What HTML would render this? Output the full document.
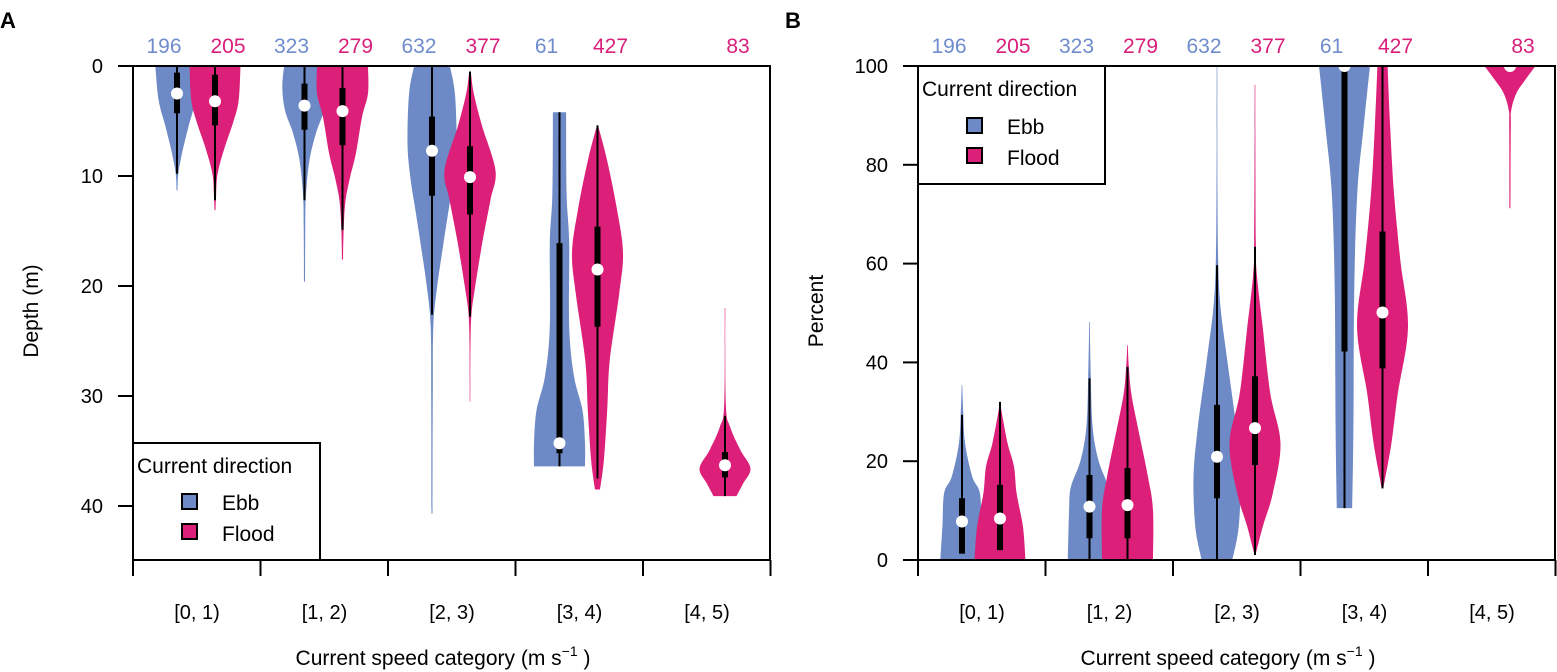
<!DOCTYPE html>
<html><head><meta charset="utf-8"><style>
body{margin:0;background:#fff}
svg{display:block;font-family:"Liberation Sans",Arial,sans-serif}
</style></head><body>
<svg id="chart" width="1557" height="672" viewBox="0 0 1557 672">
<defs>
<clipPath id="clipA"><rect x="133" y="66" width="637" height="494"/></clipPath>
<clipPath id="clipB"><rect x="918" y="66" width="637" height="494"/></clipPath>
</defs>
<text x="0" y="28" font-size="22" font-weight="bold">A</text>
<text x="785" y="28" font-size="22" font-weight="bold">B</text>
<g id="gA" clip-path="url(#clipA)"></g>
<g id="gB" clip-path="url(#clipB)"></g>
<g id="axes"></g>
<g>
<rect x="133" y="443" width="187" height="117" fill="#fff" stroke="#000" stroke-width="2"/>
<text x="137" y="473" font-size="21">Current direction</text>
<rect x="182" y="494" width="15" height="15" fill="#6d89c6" stroke="#000" stroke-width="2"/>
<text x="222" y="510" font-size="21">Ebb</text>
<rect x="182" y="524" width="15" height="15" fill="#dc2079" stroke="#000" stroke-width="2"/>
<text x="222" y="541" font-size="21">Flood</text>
</g>
<g>
<rect x="918" y="66" width="187" height="118" fill="#fff" stroke="#000" stroke-width="2"/>
<text x="922" y="96" font-size="21">Current direction</text>
<rect x="967" y="118" width="15" height="15" fill="#6d89c6" stroke="#000" stroke-width="2"/>
<text x="1007" y="134" font-size="21">Ebb</text>
<rect x="967" y="148" width="15" height="15" fill="#dc2079" stroke="#000" stroke-width="2"/>
<text x="1007" y="165" font-size="21">Flood</text>
</g>
</svg>
<script>
const categories = ["[0, 1)","[1, 2)","[2, 3)","[3, 4)","[4, 5)"];
const countsEbb = [196, 323, 632, 61, null];
const countsFlood = [205, 279, 377, 427, 83];
const depthTicks = [0,10,20,30,40];
const pctTicks = [0,20,40,60,80,100];

// Panel A (depth) violins
const aE1v=[0,3.1,5.5,7.9,9.8,11.3], aE1d=[0.85,0.72,0.45,0.2,0.05,0.02], aE1s=[0,0.6,2.5,4.3,9.8];
const aF1v=[0,3.1,5.0,7.4,9.8,11.9,13.1], aF1d=[1.0,0.93,0.73,0.38,0.1,0.04,0.02], aF1s=[0,0.8,3.2,5.4,12.2];
const aE2v=[0,1.9,4.0,6.1,8.5,11.6,14.6,19.6], aE2d=[0.8,0.87,0.77,0.45,0.2,0.06,0.03,0.02], aE2s=[0,1.6,3.6,5.8,12.2];
const aF2v=[0,2.5,4.6,7.9,10.1,12.2,14.6,17.6], aF2d=[1.0,1.0,0.77,0.53,0.3,0.12,0.05,0.02], aF2s=[0,2.0,4.1,7.2,14.9];
const aE3v=[0,2.5,7.0,10.1,13.1,16.1,20.1,23.7,29.8,40.7], aE3d=[0.7,0.9,0.96,0.85,0.65,0.45,0.2,0.05,0.03,0.02], aE3s=[0,4.6,7.7,11.8,22.6];
const aF3v=[0.5,2.5,5.5,9.5,12.2,16.1,20.1,22.5,25.2,30.5], aF3d=[0.03,0.15,0.48,1.0,0.8,0.48,0.2,0.06,0.02,0.01], aF3s=[0.5,7.3,10.1,13.5,22.8];
const aE4v=[4.2,11.6,16.1,23.7,28.2,31.3,34.3,36.4], aE4d=[0.26,0.28,0.38,0.38,0.57,0.9,1.0,1.0], aE4s=[4.2,16.1,34.3,35.2,36.4];
const aF4v=[5.4,8.5,13.1,17.0,20.7,26.8,31.3,35.8,38.5], aF4d=[0.02,0.37,0.77,1.0,0.85,0.48,0.38,0.25,0.1], aF4s=[5.4,14.6,18.5,23.7,37.5];
const aF5v=[22.0,30.7,32.8,34.9,36.6,38.0,39.1], aF5d=[0.01,0.03,0.2,0.6,1.0,0.7,0.45], aF5s=[31.8,35.1,36.3,37.4,39.1];

// Panel B (percent) violins
const bE1v=[0,6.7,13.5,16.9,23.6,29.7,35.4], bE1d=[0.85,0.77,0.7,0.4,0.12,0.05,0.01], bE1s=[1.3,1.3,7.8,12.5,29.4];
const bF1v=[0,6.7,13.5,18.9,23.6,30.4,32], bF1d=[1.0,0.9,0.65,0.55,0.3,0.05,0.01], bF1s=[2,2,8.4,15.2,32];
const bE2v=[0,10.1,14.8,20.2,27,37.1,48.2], bE2d=[0.85,0.8,0.73,0.35,0.12,0.05,0.01], bE2s=[0,4.4,10.8,17.2,36.8];
const bF2v=[0,10.1,16.9,27,33.7,39.1,43.5], bF2d=[1.0,1.0,0.8,0.4,0.15,0.05,0.01], bF2s=[0,4.4,11.1,18.6,39.1];
const bE3v=[0,6.7,16.9,27,40.5,50.6,59.7,74,100], bE3d=[0.6,0.85,0.92,0.75,0.4,0.15,0.05,0.02,0.01], bE3s=[0,12.5,20.9,31.4,59.7];
const bF3v=[1,6.7,13.5,23.6,33.7,47.2,57.4,64.8,96.2], bF3d=[0.02,0.3,0.7,1.0,0.6,0.3,0.08,0.03,0.01], bF3s=[1,19.2,26.7,37.2,63.4];
const bE4v=[10.5,27,54,74.2,87.7,100], bE4d=[0.3,0.35,0.38,0.5,0.75,1.0], bE4s=[10.5,42.2,100,100,100];
const bF4v=[14.5,23.6,33.7,47.2,60.7,74.2,87.7,100], bF4d=[0.03,0.35,0.6,1.0,0.7,0.45,0.3,0.2], bF4s=[14.5,38.8,50.1,66.5,100];
const bF5v=[71.2,87.7,91.1,94.5,97.2,100], bF5d=[0.02,0.03,0.05,0.25,0.6,1.0], bF5s=[99,99.5,100,100,100];

const violinsA=[[0,'ebb',aE1v,aE1d,aE1s],[0,'flood',aF1v,aF1d,aF1s],[1,'ebb',aE2v,aE2d,aE2s],[1,'flood',aF2v,aF2d,aF2s],[2,'ebb',aE3v,aE3d,aE3s],[2,'flood',aF3v,aF3d,aF3s],[3,'ebb',aE4v,aE4d,aE4s],[3,'flood',aF4v,aF4d,aF4s],[4,'flood',aF5v,aF5d,aF5s]];
const violinsB=[[0,'ebb',bE1v,bE1d,bE1s],[0,'flood',bF1v,bF1d,bF1s],[1,'ebb',bE2v,bE2d,bE2s],[1,'flood',bF2v,bF2d,bF2s],[2,'ebb',bE3v,bE3d,bE3s],[2,'flood',bF3v,bF3d,bF3s],[3,'ebb',bE4v,bE4d,bE4s],[3,'flood',bF4v,bF4d,bF4s],[4,'flood',bF5v,bF5d,bF5s]];

const NS="http://www.w3.org/2000/svg";
const COL={ebb:"#6d89c6",flood:"#dc2079"};
const LCOL={ebb:"#6f8ccc",flood:"#d81f7a"};
const W=25.5, OFF={ebb:-20,flood:18};
function mk(tag,attrs,parent){const e=document.createElementNS(NS,tag);for(const k in attrs)e.setAttribute(k,attrs[k]);parent.appendChild(e);return e;}
// Catmull-Rom smooth path through points (open)
function smooth(pts){
 let d="";
 for(let i=0;i<pts.length-1;i++){
  const p0=pts[Math.max(0,i-1)],p1=pts[i],p2=pts[i+1],p3=pts[Math.min(pts.length-1,i+2)];
  const c1=[p1[0]+(p2[0]-p0[0])/6,p1[1]+(p2[1]-p0[1])/6];
  const c2=[p2[0]-(p3[0]-p1[0])/6,p2[1]-(p3[1]-p1[1])/6];
  d+=` C${c1[0].toFixed(1)},${c1[1].toFixed(1)} ${c2[0].toFixed(1)},${c2[1].toFixed(1)} ${p2[0].toFixed(1)},${p2[1].toFixed(1)}`;
 }
 return d;
}
const panels=[
 {g:document.getElementById('gA'),x0:133,y:v=>66+v*11,vs:violinsA,ticks:depthTicks,title:"Depth (m)",tx:38,ty:311},
 {g:document.getElementById('gB'),x0:918,y:v=>560-v*4.94,vs:violinsB,ticks:pctTicks,title:"Percent",tx:823,ty:311}
];
const axes=document.getElementById('axes');
panels.forEach((P,pi)=>{
 const cx=i=>P.x0+64+i*127.5;
 P.vs.forEach(([ci,dir,vals,dens,s])=>{
  const x=cx(ci)+OFF[dir];
  const r=vals.map((v,k)=>[x+dens[k]*W,P.y(v)]);
  const l=vals.map((v,k)=>[x-dens[k]*W,P.y(v)]).reverse();
  const d="M"+r[0][0].toFixed(1)+","+r[0][1].toFixed(1)+smooth(r)+" L"+l[0][0].toFixed(1)+","+l[0][1].toFixed(1)+smooth(l)+" Z";
  const p=mk('path',{d:d,fill:COL[dir]},P.g);
  
  
  const w=mk('line',{x1:x,x2:x,y1:P.y(s[0]),y2:P.y(s[4]),stroke:"#000","stroke-width":2},P.g);
  
  
  const b=mk('line',{x1:x,x2:x,y1:P.y(s[1]),y2:P.y(s[3]),stroke:"#000","stroke-width":6},P.g);
  
  
  const m=mk('circle',{cx:x,cy:P.y(s[2]),r:6,fill:"#fff"},P.g);
  
  
 });
 const fr=mk('rect',{x:P.x0,y:66,width:637,height:494,fill:"none",stroke:"#000","stroke-width":2},axes);
 
 
 for(let i=0;i<=5;i++){const t=mk('line',{x1:P.x0+i*127.5,x2:P.x0+i*127.5,y1:560,y2:576,stroke:"#000","stroke-width":2},axes);
  
  }
 categories.forEach((c,i)=>{const t=mk('text',{x:cx(i),y:619,"font-size":20,"text-anchor":"middle"},axes);t.textContent=c;
  
  });
 P.ticks.forEach(v=>{const yy=P.y(v);
  const t=mk('line',{x1:P.x0-15,x2:P.x0,y1:yy,y2:yy,stroke:"#000","stroke-width":2},axes);
  
  
  const tl=mk('text',{x:P.x0-30,y:yy+7,"font-size":20,"text-anchor":"end"},axes);tl.textContent=v;
  
  });
 const yt=mk('text',{x:P.tx,y:P.ty,"font-size":21,"text-anchor":"middle",transform:`rotate(-90 ${P.tx} ${P.ty})`},axes);yt.textContent=P.title;
 
 
 const xt=mk('text',{x:P.x0+310,y:665,"font-size":21,"text-anchor":"middle"},axes);
 xt.innerHTML='Current speed category (m s<tspan dy="-9" font-size="14">\u22121</tspan><tspan dy="9"> )</tspan>';
 
 
 categories.forEach((c,i)=>{
  [['ebb',countsEbb[i],-33],['flood',countsFlood[i],31]].forEach(([d,n,o])=>{
   if(n==null)return;
   const t=mk('text',{x:cx(i)+o,y:53,"font-size":21,"text-anchor":"middle",fill:LCOL[d]},axes);t.textContent=n;
   
   
  });
 });
});
</script>
</body></html>
